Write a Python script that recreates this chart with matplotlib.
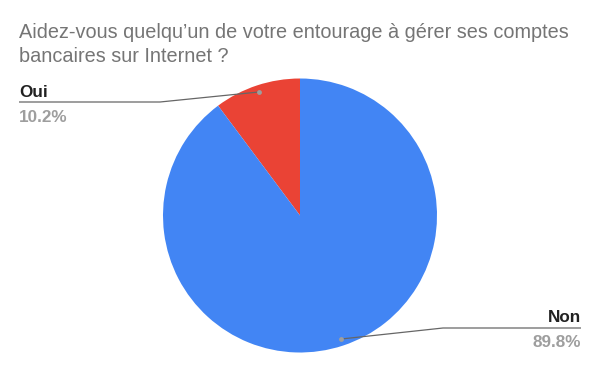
import numpy as np
import matplotlib
matplotlib.use("Agg")
import matplotlib.pyplot as plt

plt.rcParams['font.family'] = ['Liberation Sans', 'DejaVu Sans']

title_lines = ["Aidez-vous quelqu\u2019un de votre entourage à gérer ses comptes",
               "bancaires sur Internet ?"]
labels = ["Oui", "Non"]
values = [10.2, 89.8]
colors = ["#EA4335", "#4285F4"]

W, H = 600, 371
fig = plt.figure(figsize=(W / 100, H / 100), dpi=100)
ax = fig.add_axes([0, 0, 1, 1])

cx, cy, r = 300, H - 215.5, 137
wedges, _ = ax.pie(values, colors=colors, startangle=90, counterclock=True,
                   center=(cx, cy), radius=r, frame=True,
                   wedgeprops=dict(linewidth=0))
ax.set_xlim(0, W)
ax.set_ylim(0, H)
ax.axis('off')

# label layout in pixels (y from top): name baseline, pct baseline, leader line y
label_pos = {
    "Oui": dict(x=19, base=97, pbase=122, liney=102, kink=160, ha='left'),
    "Non": dict(x=581, base=322, pbase=347, liney=328, kink=443, ha='right'),
}

for w, lab, val in zip(wedges, labels, values):
    mid = np.deg2rad((w.theta1 + w.theta2) / 2)
    dx = cx + 0.95 * r * np.cos(mid)
    dy = cy + 0.95 * r * np.sin(mid)
    p = label_pos[lab]
    ly = H - p["liney"]
    ax.plot([p["x"], p["kink"], dx], [ly, ly, dy], color="#666666", lw=0.9,
            solid_capstyle='butt')
    ax.plot(dx, dy, 'o', ms=3.5, color="#9E9E9E", mec='none')
    ax.text(p["x"], H - p["base"], lab, ha=p["ha"], va='baseline', fontsize=12.3,
            fontweight='bold', color="#212121")
    ax.text(p["x"], H - p["pbase"], f"{val:.1f}%", ha=p["ha"], va='baseline',
            fontsize=12.3, fontweight='bold', color="#9E9E9E")

for i, line in enumerate(title_lines):
    fig.text(19 / W, 1 - (38 + 24 * i) / H, line, ha='left', va='baseline',
             fontsize=14.3, color="#757575")

fig.savefig("out.png", dpi=100)
